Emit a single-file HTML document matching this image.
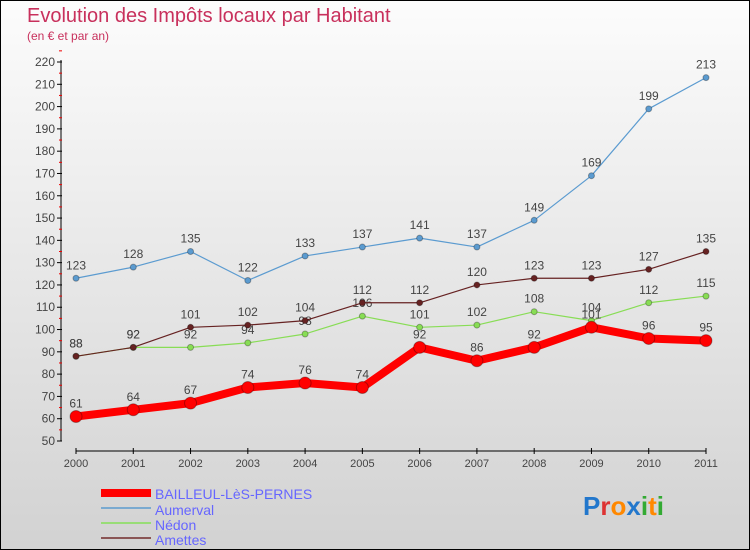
<!DOCTYPE html>
<html><head><meta charset="utf-8"><style>
body{margin:0}
#c{position:relative;width:748px;height:548px;border:1px solid #000;background:linear-gradient(#fcfcfc,#d2d2d2);font-family:"Liberation Sans",sans-serif;overflow:hidden}
</style></head><body>
<div id="c">
<svg id="s" width="748" height="548" style="position:absolute;left:0;top:0">
<text x="26" y="21" font-size="20" fill="#c8305c">Evolution des Impôts locaux par Habitant</text>
<text x="26" y="39" font-size="12" fill="#c8305c">(en € et par an)</text>
<g id="g"></g>
<g>
<rect x="100" y="488" width="50" height="8" fill="#f00"/><text x="154" y="498" font-size="14" fill="#6666ff">BAILLEUL-LèS-PERNES</text>
<line x1="100" y1="507" x2="150" y2="507" stroke="#7aaad0" stroke-width="2"/><text x="154" y="514" font-size="14" fill="#6666ff">Aumerval</text>
<line x1="100" y1="522" x2="150" y2="522" stroke="#99dd77" stroke-width="2"/><text x="154" y="529" font-size="14" fill="#6666ff">Nédon</text>
<line x1="100" y1="537" x2="150" y2="537" stroke="#8a5555" stroke-width="2"/><text x="154" y="544" font-size="14" fill="#6666ff">Amettes</text>
</g>
<text x="582" y="514" font-size="26" font-weight="bold"><tspan fill="#2277cc">P</tspan><tspan fill="#dd3333">r</tspan><tspan fill="#ff8800">o</tspan><tspan fill="#2277cc">x</tspan><tspan fill="#33aa33">i</tspan><tspan fill="#ff8800">t</tspan><tspan fill="#33aa33">i</tspan></text>
</svg>
</div>
<script>
const years=[2000,2001,2002,2003,2004,2005,2006,2007,2008,2009,2010,2011];
const bailleul=[61,64,67,74,76,74,92,86,92,101,96,95];
const aumerval=[123,128,135,122,133,137,141,137,149,169,199,213];
const nedon=[88,92,92,94,98,106,101,102,108,104,112,115];
const amettes=[88,92,101,102,104,112,112,120,123,123,127,135];
const yTicks=[50,60,70,80,90,100,110,120,130,140,150,160,170,180,190,200,210,220];
const X=i=>75+i*(630/(years.length-1));
const Y=v=>440-(v-50)*(379/170);
const g=document.getElementById('g');const NS='http://www.w3.org/2000/svg';
function mk(t,a,p){const e=document.createElementNS(NS,t);for(const k in a)e.setAttribute(k,a[k]);(p||g).appendChild(e);return e;}
const ax=mk('line',{x1:60,y1:Y(220)-2,x2:60,y2:Y(50),stroke:'#000'});


yTicks.forEach(v=>{mk('line',{x1:56,y1:Y(v),x2:61,y2:Y(v),stroke:'#000'});
mk('line',{x1:58,y1:Y(v+5),x2:61,y2:Y(v+5),stroke:'#e00'});
const t=mk('text',{x:54,y:Y(v)+4,'font-size':12,'text-anchor':'end',fill:'#444'});t.textContent=v;

});
const xa=mk('line',{x1:X(0),y1:450,x2:X(11),y2:450,stroke:'#000'});


years.forEach((y,i)=>{mk('line',{x1:X(i),y1:447,x2:X(i),y2:453,stroke:'#000'});
const t=mk('text',{x:X(i),y:466,'font-size':11,'text-anchor':'middle',fill:'#444'});t.textContent=y;

});
function series(d,col,w,r,name){
const p=mk('polyline',{points:d.map((v,i)=>X(i)+','+Y(v)).join(' '),fill:'none',stroke:col,'stroke-width':w,'stroke-linejoin':'round'});


d.forEach((v,i)=>{const c=mk('circle',{cx:X(i),cy:Y(v),r:r,fill:col,stroke:'rgba(0,0,0,0.3)'});


const t=mk('text',{x:X(i),y:Y(v)-9,'font-size':12,'text-anchor':'middle',fill:'#444'});t.textContent=v;

});}
series(aumerval,'#5b9bd0',1.2,3,'aumerval');
series(nedon,'#88dd55',1.2,3,'nedon');
series(amettes,'#662222',1.2,3,'amettes');
series(bailleul,'#f00',8,6,'bailleul');
</script>
</body></html>
